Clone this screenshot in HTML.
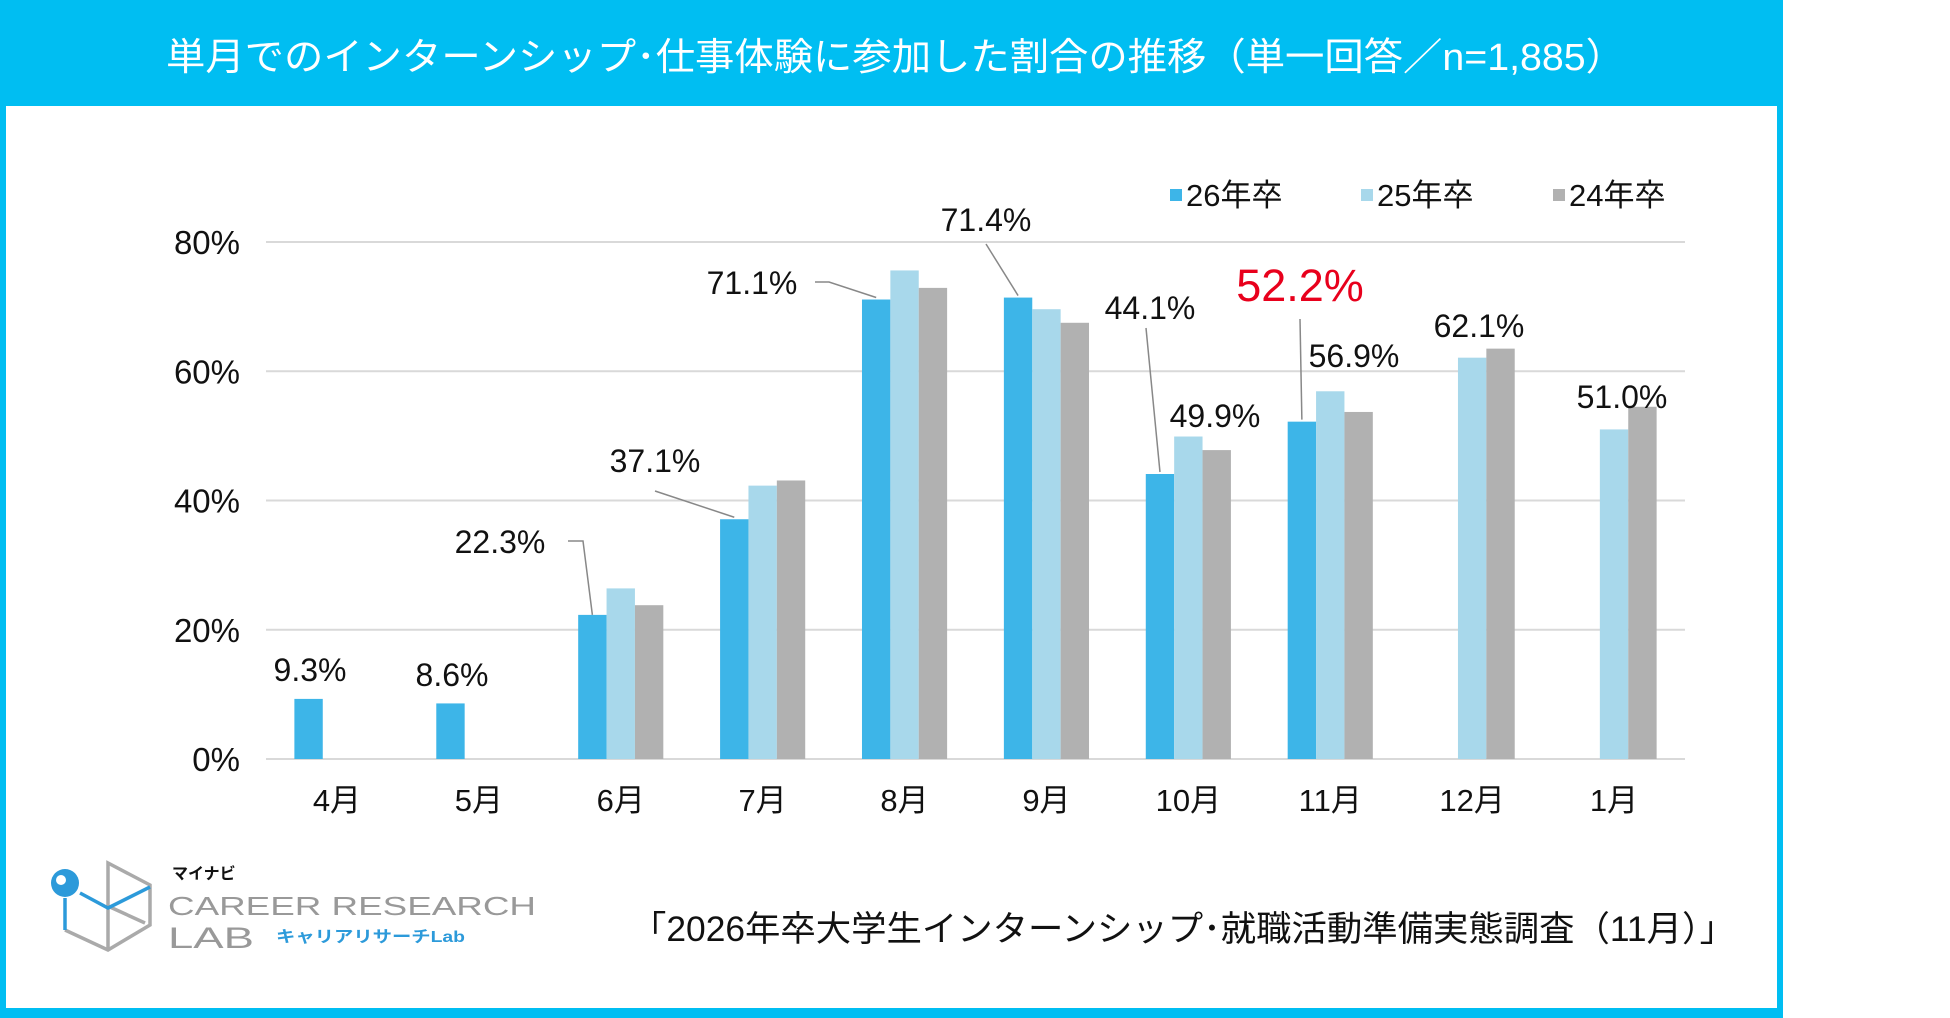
<!DOCTYPE html>
<html><head><meta charset="utf-8"><style>
html,body{margin:0;padding:0;background:#fff;}
svg{display:block;font-family:"Liberation Sans","Noto Sans CJK JP",sans-serif;}
</style></head><body>
<svg id="chart" width="1950" height="1018" viewBox="0 0 1950 1018" xmlns="http://www.w3.org/2000/svg">
<rect x="0" y="0" width="1783" height="1018" fill="#00BEF2"/>
<rect x="6" y="106" width="1771" height="902" fill="#fff"/>
<text x="166" y="70" font-size="38" fill="#fff" textLength="1459" lengthAdjust="spacingAndGlyphs">単月でのインターンシップ･仕事体験に参加した割合の推移（単一回答／n=1,885）</text>
<g id="grid"></g>
<g id="bars"></g>
<g id="labels"></g>
<g>
<rect x="1170" y="189" width="12" height="12" fill="#3DB5E8"/>
<text x="1186" y="206" font-size="31" fill="#111">26年卒</text>
<rect x="1361" y="189" width="12" height="12" fill="#A8D8EB"/>
<text x="1377" y="206" font-size="31" fill="#111">25年卒</text>
<rect x="1553" y="189" width="12" height="12" fill="#B1B1B1"/>
<text x="1569" y="206" font-size="31" fill="#111">24年卒</text>
</g>
<g>
<g fill="none" stroke="#aaa" stroke-width="3.5">
<polyline points="65,930 108,950 150,925 150,885 108,863 108,950"/>
<line x1="110" y1="907" x2="145" y2="923"/>
</g>
<g fill="none" stroke="#2C9ADA" stroke-width="3.5">
<polyline points="80,893 108,908 150,887"/>
<line x1="65" y1="898" x2="65" y2="930"/>
</g>
<circle cx="65" cy="883" r="14" fill="#2C9ADA"/>
<circle cx="61" cy="880" r="5" fill="#fff"/>
<text x="172" y="879" font-size="16" font-weight="bold" fill="#111">マイナビ</text>
<text x="168" y="915" font-size="26" fill="#999" textLength="368" lengthAdjust="spacingAndGlyphs">CAREER RESEARCH</text>
<text x="168" y="948" font-size="30" fill="#999" textLength="86" lengthAdjust="spacingAndGlyphs">LAB</text>
<text x="276" y="942" font-size="16" font-weight="bold" fill="#2C9ADA" textLength="189" lengthAdjust="spacingAndGlyphs">キャリアリサーチLab</text>
</g>
<text x="631" y="941" font-size="35" fill="#111" textLength="1104" lengthAdjust="spacingAndGlyphs">「2026年卒大学生インターンシップ･就職活動準備実態調査（11月）」</text>
<script>
var categories=["4月","5月","6月","7月","8月","9月","10月","11月","12月","1月"];
var s26=[9.3,8.6,22.3,37.1,71.1,71.4,44.1,52.2,null,null];
var s25=[null,null,26.4,42.3,75.6,69.6,49.9,56.9,62.1,51.0];
var s24=[null,null,23.8,43.1,72.9,67.5,47.8,53.7,63.5,54.5];
var yTicks=[0,20,40,60,80];
var labelText=["9.3%","8.6%","22.3%","37.1%","71.1%","71.4%","44.1%","52.2%","62.1%","51.0%"];
var extraLabels=["49.9%","56.9%"];
</script>
<script>
(function(){
var NS="http://www.w3.org/2000/svg";
var x0=266,x1=1685,y0=759,yTop=242;
var band=(x1-x0)/categories.length,bw=band*0.2;
function y(v){return y0-(v/80)*(y0-yTop);}
function xc(i){return x0+band*(i+0.5);}
function mk(tag,attrs,parent){var e=document.createElementNS(NS,tag);for(var k in attrs)e.setAttribute(k,attrs[k]);parent.appendChild(e);return e;}
var grid=document.getElementById('grid'),bars=document.getElementById('bars'),labels=document.getElementById('labels');
yTicks.forEach(function(t){
 var l=mk('line',{x1:x0,x2:x1,y1:y(t),y2:y(t),stroke:'#d9d9d9','stroke-width':2},grid);
 
 
 var tx=mk('text',{x:240,y:y(t)+12,'font-size':33,'text-anchor':'end',fill:'#111'},grid);
 tx.textContent=t+'%';
 
 
});
categories.forEach(function(c,i){
 var tx=mk('text',{x:xc(i),y:811,'font-size':31,'text-anchor':'middle',fill:'#111'},grid);
 tx.textContent=c;
 
 
});
var series=[[s26,'#3DB5E8','26'],[s25,'#A8D8EB','25'],[s24,'#B1B1B1','24']];
series.forEach(function(s,k){
 s[0].forEach(function(v,i){
  if(v===null)return;
  var r=mk('rect',{x:xc(i)-1.5*bw+k*bw,y:y(v),width:bw,height:y0-y(v),fill:s[1]},bars);
  
  
 });
});
function lab(t,x,yy,size,col,pts,name){
 if(pts){var p=mk('polyline',{points:pts,fill:'none',stroke:'#888','stroke-width':1.5},labels);
  
  }
 var tx=mk('text',{x:x,y:yy,'font-size':size,'text-anchor':'middle',fill:col},labels);
 tx.textContent=t;
 
 
}
var b=function(i){return xc(i)-1.5*bw;};
lab(labelText[0],310,681,32,'#111',null,'label-apr');
lab(labelText[1],452,686,32,'#111',null,'label-may');
lab(labelText[2],500,553,32,'#111','568,541 583,541 '+(b(2)+bw/2)+','+y(s26[2]),'label-jun');
lab(labelText[3],655,472,32,'#111','655,491 '+(b(3)+bw/2)+','+(y(s26[3])-2),'label-jul');
lab(labelText[4],752,294,32,'#111','815,282 829,282 '+(b(4)+bw/2)+','+(y(s26[4])-2),'label-aug');
lab(labelText[5],986,231,32,'#111','986,244 '+(b(5)+bw/2)+','+(y(s26[5])-2),'label-sep');
lab(labelText[6],1150,319,32,'#111','1146,328 '+(b(6)+bw/2)+','+(y(s26[6])-2),'label-oct');
lab(labelText[7],1300,301,45,'#E8001C','1300,319 '+(b(7)+bw/2)+','+(y(s26[7])-2),'label-nov-26');
lab(extraLabels[0],1215,427,32,'#111',null,'label-oct-25');
lab(extraLabels[1],1354,367,32,'#111',null,'label-nov-25');
lab(labelText[8],1479,337,32,'#111',null,'label-dec-25');
lab(labelText[9],1622,408,32,'#111',null,'label-jan-25');
})();
</script>
</svg>
</body></html>
